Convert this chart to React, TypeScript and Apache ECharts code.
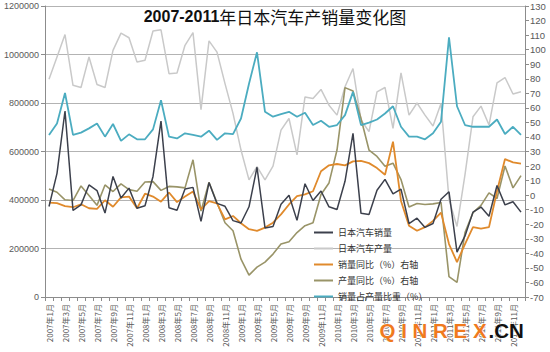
import React, { useEffect, useRef } from "react";
import * as echarts from "echarts";

const years = ["2007", "2008", "2009", "2010", "2011"];
const monthNums = [1, 2, 3, 4, 5, 6, 7, 8, 9, 10, 11, 12];
const categories: string[] = [];
years.forEach((y) => monthNums.forEach((m) => categories.push(`${y}年${m}月`)));

// 日本汽车销量 (left axis)
const sales = [
  373000, 510000, 767000, 357000, 380000, 462000, 439000, 346000, 497000, 408000, 449000, 366000,
  376000, 497000, 725000, 368000, 358000, 445000, 452000, 312000, 472000, 386000, 374000, 315000,
  305000, 372000, 535000, 285000, 291000, 382000, 420000, 316000, 467000, 398000, 437000, 372000,
  361000, 477000, 675000, 345000, 340000, 440000, 485000, 425000, 445000, 303000, 325000, 287000,
  303000, 403000, 434000, 185000, 252000, 350000, 371000, 333000, 460000, 380000, 393000, 350000,
];

// 日本汽车产量 (left axis)
const production = [
  898000, 990000, 1082000, 873000, 864000, 990000, 876000, 864000, 1017000, 1088000, 1069000, 969000,
  976000, 1097000, 1102000, 921000, 924000, 1038000, 1090000, 773000, 1056000, 1010000, 880000, 757000,
  606000, 483000, 538000, 483000, 540000, 688000, 736000, 586000, 825000, 819000, 856000, 791000,
  750000, 867000, 942000, 730000, 682000, 846000, 864000, 695000, 924000, 750000, 800000, 750000,
  705000, 798000, 402000, 291000, 505000, 743000, 787000, 709000, 883000, 905000, 837000, 846000,
];

// 销量同比（%）右轴
const salesYoY = [
  -5.2, -5.5, -7.5, -8.3, -6.3, -9, -9.5, -3.5, -8, -1.5, -1, -9,
  1, -1, -4.5, 1.8, -4.8, -1, 2.5, -9.8, -4.1, -5.7, -16.6, -14.3,
  -19.3, -23.4, -24.5, -22.3, -18.9, -13.2, -6.4, -0.7, 0.5, 2.7, 16.4, 20.5,
  21.4, 20.5, 23.2, 23.6, 22, 18.6, 14, 36.8, -4, -21, -24.5, -22,
  -17.7, -12, -33.6, -46, -33.6, -22, -23, -22, 2.7, 24.8, 22.5, 21.6,
];

// 产量同比（%）右轴
const productionYoY = [
  4.3, 2, -3.2, -3.7, 6.3, -0.2, -7, 7, 2.5, 7.8, 3.8, 2.7,
  9, 9.3, 3.3, 6, 5.7, 5, 24.3, -11, 8.9, -5.2, -19, -24.5,
  -44, -55, -49.5, -46, -40.5, -33.6, -32, -25.7, -21, -19, 0.5, 8.4,
  31, 73.9, 71.6, 52.7, 31, 26.6, 19.8, 22, 10.7, -8.2, -5.7, -6.4,
  -6, -5, -56, -60, -25.7, -12, -7, 1.6, -2.3, 20, 5, 13.4,
];

// 销量占产量比重（%）
const salesShare = [
  41.4, 49.3, 70.2, 41.4, 43, 45.9, 49.3, 40.2, 48.9, 37.3, 41.8, 38.4,
  38.4, 45.2, 65.2, 40.2, 39, 42.5, 41.4, 40.2, 44.3, 38, 42.5, 42,
  52.7, 76.6, 98.2, 57.3, 53.9, 55.7, 57.3, 53.9, 56.6, 48.2, 51.1, 47,
  48.2, 55, 71, 48.2, 49.8, 52, 56.1, 61.1, 47, 40.2, 40.2, 38.4,
  42.5, 50.5, 108.4, 61.1, 48.2, 47, 47, 47, 52, 42, 47, 41.4,
];

const seriesNames = [
  "日本汽车销量",
  "日本汽车产量",
  "销量同比（%）右轴",
  "产量同比（%）右轴",
  "销量占产量比重（%）",
];

const leftTicks = { min: 0, max: 1200000, interval: 200000 };
const rightTicks = { min: -70, max: 130, interval: 10 };

const FONT = "'Liberation Sans', 'Noto Sans CJK SC', sans-serif";
const CJK = "'Noto Sans CJK SC', 'Liberation Sans', sans-serif";

export default function App() {
  const ref = useRef<HTMLDivElement>(null);

  useEffect(() => {
    if (!ref.current) return;
    const chart = echarts.init(ref.current, undefined, { renderer: "svg" });

    const mk = (i: number, data: number[], axis: number, color: string, width: number, z: number) => ({
      name: seriesNames[i],
      type: "line",
      data,
      yAxisIndex: axis,
      symbol: "none",
      showSymbol: false,
      z,
      lineStyle: { color, width },
      itemStyle: { color },
    });

    chart.setOption({
      animation: false,
      backgroundColor: "#ffffff",
      title: {
        text: "{a|2007-2011}{b|年日本汽车产销量变化图}",
        left: "center",
        top: 3,
        textStyle: {
          rich: {
            a: { fontSize: 16, fontWeight: "bold", fontFamily: FONT, color: "#111" },
            b: { fontSize: 17, fontWeight: "normal", fontFamily: CJK, color: "#111" },
          },
        },
      },
      grid: { left: 45, right: 25, top: 6, bottom: 55, containLabel: false },
      legend: {
        orient: "vertical",
        left: 309,
        top: 222,
        itemWidth: 19,
        itemHeight: 2,
        itemGap: 5,
        icon: "rect",
        data: seriesNames,
        textStyle: { fontSize: 9, fontFamily: CJK, color: "#333", lineHeight: 11 },
      },
      xAxis: {
        type: "category",
        data: categories,
        boundaryGap: true,
        axisLine: { lineStyle: { color: "#8c8c8c", width: 1 } },
        axisTick: { show: true, interval: 0, length: 4, lineStyle: { color: "#8c8c8c" } },
        axisLabel: {
          interval: 1,
          rotate: 90,
          fontSize: 8,
          color: "#595959",
          fontFamily: CJK,
          margin: 7,
        },
      },
      yAxis: [
        {
          type: "value",
          position: "left",
          min: leftTicks.min,
          max: leftTicks.max,
          interval: leftTicks.interval,
          axisLine: { show: true, lineStyle: { color: "#8c8c8c" } },
          axisTick: { show: true, length: 4, lineStyle: { color: "#8c8c8c" } },
          axisLabel: {
            fontSize: 9,
            color: "#595959",
            fontFamily: FONT,
            margin: 6,
            formatter: (v: number) => String(v),
          },
          splitLine: { show: true, lineStyle: { color: "#b3b3b3", width: 1 } },
        },
        {
          type: "value",
          position: "right",
          min: rightTicks.min,
          max: rightTicks.max,
          interval: rightTicks.interval,
          axisLine: { show: true, lineStyle: { color: "#8c8c8c" } },
          axisTick: { show: true, length: 4, lineStyle: { color: "#8c8c8c" } },
          axisLabel: { fontSize: 9.5, color: "#595959", fontFamily: FONT, margin: 5 },
          splitLine: { show: false },
        },
      ],
      series: [
        mk(0, sales, 0, "#3c404c", 1.5, 5),
        mk(1, production, 0, "#c9c9c9", 1.5, 2),
        mk(2, salesYoY, 1, "#e08a2c", 1.8, 4),
        mk(3, productionYoY, 1, "#999468", 1.6, 3),
        mk(4, salesShare, 1, "#4bacc0", 1.8, 6),
      ],
      graphic: [
        {
          type: "text",
          left: 379,
          top: 320,
          z: 100,
          style: {
            text: "Q I N R E X",
            fontSize: 20.5,
            fontWeight: "bold",
            fontFamily: FONT,
            fill: "#f07a1e",
            stroke: "#ffffff",
            lineWidth: 1,
          },
        },
        {
          type: "text",
          left: 488,
          top: 320,
          z: 100,
          style: {
            text: ".CN",
            fontSize: 20.5,
            fontWeight: "bold",
            fontFamily: FONT,
            fill: "#111111",
            stroke: "#ffffff",
            lineWidth: 1,
          },
        },
      ],
    });

    return () => chart.dispose();
  }, []);

  return (
    <div
      ref={ref}
      style={{ position: "fixed", left: 0, top: 0, width: 550, height: 352, background: "#fff" }}
    />
  );
}
